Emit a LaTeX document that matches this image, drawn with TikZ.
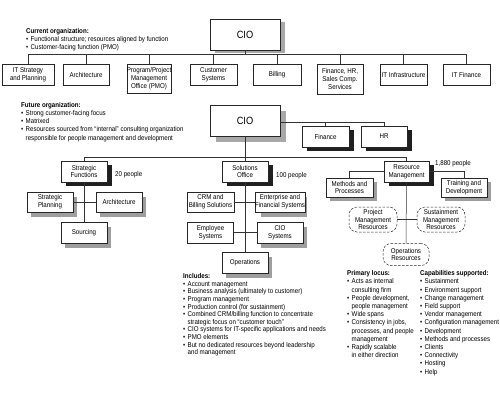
\documentclass[tikz,border=0pt]{standalone}
\usepackage{fontspec}
\setmainfont{Liberation Sans}[FakeStretch=0.88]
\newcommand{\bl}{\makebox[4.5pt][l]{\textbullet}}
\newcommand{\nb}{\hspace*{4.5pt}}
\definecolor{lightsh}{RGB}{158,158,158}
\definecolor{ciosh}{RGB}{168,168,168}
\definecolor{darksh}{RGB}{32,32,32}
\begin{document}
\begin{tikzpicture}[x=1pt,y=-1pt,
  every node/.style={font=\fontsize{7}{7.7}\selectfont, inner sep=0pt},
  box/.style={draw=black!85, line width=0.5pt, fill=white, align=center, minimum height=21pt},
  cbox/.style={box, minimum width=70pt, minimum height=31pt, font=\fontsize{10.5}{12}\selectfont},
  dres/.style={draw=black!85, line width=0.5pt, dash pattern=on 2.5pt off 1.5pt, rounded corners=8pt, fill=white, align=center, minimum width=48pt, minimum height=25pt},
  conn/.style={draw=black!80, line width=0.5pt},
  txt/.style={anchor=north west, align=left, font=\fontsize{7}{8.2}\selectfont}
]
\useasboundingbox (0,0) rectangle (500,400);

% ---------- shadows ----------
\fill[ciosh] (215,22) rectangle (285,53);
\fill[ciosh] (216,111) rectangle (286,142);
\foreach \a/\b/\c/\d in {307/130/354/151, 366/130/412/151, 66/165/112/186, 227/165/273/186, 389/165/434/186}
  {\fill[darksh] (\a,\b) rectangle (\c,\d);}
\foreach \a/\b/\c/\d in {31/197/77/217, 100/197/146/217, 65/227/111/248, 261/197/307/217, 261/227/307/248, 226/257/272/278, 330/182/377/201, 445/182/491/201}
  {\fill[lightsh] (\a,\b) rectangle (\c,\d);}

% ---------- current organization ----------
\node[txt] (curtxt) at (26,28) {\textbf{Current organization:}\\ \bl Functional structure; resources aligned by function\\ \bl Customer-facing function (PMO)};

\node[cbox] (cio1) at (245,34.5) {CIO};
\node[box, minimum width=52pt] (t1) at (28,74.5) {IT Strategy\\and Planning};
\node[box, minimum width=46pt] (t2) at (86,74.5) {Architecture};
\node[box, minimum width=44pt, minimum height=29pt] (t3) at (149,78.5) {Program/Project\\Management\\Office (PMO)};
\node[box, minimum width=47pt] (t4) at (213.5,74.5) {Customer\\Systems};
\node[box, minimum width=48pt] (t5) at (277,74.5) {Billing};
\node[box, minimum width=46pt, minimum height=30pt] (t6) at (340,79) {Finance, HR,\\Sales Comp.\\Services};
\node[box, minimum width=47pt] (t7) at (403.5,74.5) {IT Infrastructure};
\node[box, minimum width=47pt] (t8) at (466.5,74.5) {IT Finance};

\coordinate (bus) at (0,54);
\draw[conn] (cio1.south) -- (cio1.south |- bus);
\draw[conn] (t1.north |- bus) -- (t8.north |- bus);
\foreach \n in {t1,t2,t3,t4,t5,t6,t7,t8} {\draw[conn] (\n.north) -- (\n.north |- bus);}

% ---------- future organization ----------
\node[txt] (futtxt) at (21,102) {\textbf{Future organization:}\\ \bl Strong customer-facing focus\\ \bl Matrixed\\ \bl Resources sourced from ``internal'' consulting organization\\ \nb responsible for people management and development};

\node[cbox] (cio2) at (245,120.5) {CIO};
\node[box, minimum width=47pt] (fin) at (325.5,136.5) {Finance};
\node[box, minimum width=46pt] (hr) at (384,136.5) {HR};
\coordinate (fh) at (0,122.5);
\draw[conn] (cio2.east |- fh) -| (hr.north);
\draw[conn] (fin.north) -- (fin.north |- fh);

\node[box, minimum width=46pt] (sf) at (84,171.5) {Strategic\\Functions};
\node[box, minimum width=46pt] (so) at (245,171.5) {Solutions\\Office};
\node[box, minimum width=45pt] (rm) at (406.5,171.5) {Resource\\Management};
\node[anchor=west] (sfp) at (115,175) {20 people};
\node[anchor=west] (sop) at (276,176) {100 people};
\node[anchor=west] (rmp) at (435,164) {1,880 people};

\coordinate (main) at (0,157);
\draw[conn] (sf.north) -- (sf.north |- main) -- (rm.north |- main) -- (rm.north);
\draw[conn] (cio2.south) -- (so.north);

% strategic functions group
\node[box, minimum width=46pt, minimum height=20pt] (sp) at (50,202) {Strategic\\Planning};
\node[box, minimum width=46pt, minimum height=20pt] (ar2) at (119,202) {Architecture};
\node[box, minimum width=46pt] (src) at (84,232.5) {Sourcing};
\draw[conn] (sf.south) -- (src.north);
\draw[conn] (sp.east) -- (ar2.west);

% solutions office group
\node[box, minimum width=47pt, minimum height=20pt] (crm) at (210.5,202) {CRM and\\Billing Solutions};
\node[box, minimum width=46pt, minimum height=20pt] (ent) at (280,202) {Enterprise and\\Financial Systems};
\node[box, minimum width=46pt] (emp) at (210.5,232.5) {Employee\\Systems};
\node[box, minimum width=46pt] (cios) at (280,232.5) {CIO\\Systems};
\node[box, minimum width=46pt] (ops) at (245,262.5) {Operations};
\draw[conn] (so.south) -- (ops.north);
\draw[conn] (crm.east) -- (ent.west);
\draw[conn] (emp.east) -- (cios.west);

% resource management group
\node[box, minimum width=47pt, minimum height=19pt] (mp) at (349.5,187.5) {Methods and\\Processes};
\node[box, minimum width=46pt, minimum height=19pt] (td) at (464,187.5) {Training and\\Development};
\draw[conn] (rm.west) -| (mp.north);
\draw[conn] (rm.east) -| (td.north);

\node[dres] (pmr) at (373,219.5) {Project\\Management\\Resources};
\node[dres] (smr) at (441,219.5) {Sustainment\\Management\\Resources};
\node[dres, minimum width=46pt, minimum height=22pt] (opr) at (406,254.5) {Operations\\Resources};
\draw[conn] (rm.south) -- (opr.north);
\draw[conn] (pmr.east) -- (smr.west);

% ---------- lists ----------
\node[txt, font=\fontsize{7}{7.6}\selectfont] (inc) at (183,273.5) {\textbf{Includes:}\\ \bl Account management\\ \bl Business analysis (ultimately to customer)\\ \bl Program management\\ \bl Production control (for sustainment)\\ \bl Combined CRM/billing function to concentrate\\ \nb strategic focus on ``customer touch''\\ \bl CIO systems for IT-specific applications and needs\\ \bl PMO elements\\ \bl But no dedicated resources beyond leadership\\ \nb and management};

\node[txt] (prim) at (347,270.5) {\textbf{Primary locus:}\\ \bl Acts as internal\\ \nb consulting firm\\ \bl People development,\\ \nb people management\\ \bl Wide spans\\ \bl Consistency in jobs,\\ \nb processes, and people\\ \nb management\\ \bl Rapidly scalable\\ \nb in either direction};

\node[txt] (cap) at (420,270.5) {\textbf{Capabilities supported:}\\ \bl Sustainment\\ \bl Environment support\\ \bl Change management\\ \bl Field support\\ \bl Vendor management\\ \bl Configuration management\\ \bl Development\\ \bl Methods and processes\\ \bl Clients\\ \bl Connectivity\\ \bl Hosting\\ \bl Help};
\end{tikzpicture}
\end{document}
